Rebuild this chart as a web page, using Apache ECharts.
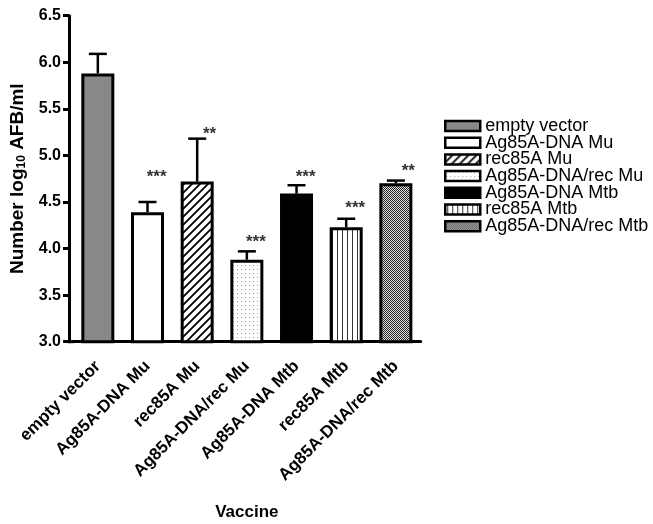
<!DOCTYPE html>
<html>
<head>
<meta charset="utf-8">
<script src="https://cdn.jsdelivr.net/npm/echarts@6/dist/echarts.min.js"></script>
<style>
  html, body { margin: 0; padding: 0; background: #fff; }
  #chart { width: 653px; height: 524px; }
</style>
</head>
<body>
<div id="chart"></div>
<script>
// Vaccine groups and mean bacterial load (log10 AFB/ml) with upper error bars
const categories = ['empty vector', 'Ag85A-DNA Mu', 'rec85A Mu', 'Ag85A-DNA/rec Mu', 'Ag85A-DNA Mtb', 'rec85A Mtb', 'Ag85A-DNA/rec Mtb'];
const means = [5.88, 4.39, 4.72, 3.88, 4.59, 4.23, 4.70];
const upperErr = [6.09, 4.50, 5.18, 3.97, 4.68, 4.32, 4.73];
// significance markers and the height at which each is printed
const stars = ['', '***', '**', '***', '***', '***', '**'];
const starLevel = [null, 4.80, 5.26, 4.10, 4.80, 4.46, 4.86];
const yTicks = { min: 3.0, max: 6.5, step: 0.5 };

const FONT = '"Liberation Sans", Arial, sans-serif';

function makePattern(w, h, draw) {
  const c = document.createElement('canvas');
  c.width = w; c.height = h;
  const ctx = c.getContext('2d');
  draw(ctx, w, h);
  return { image: c, repeat: 'repeat' };
}

const fills = [
  '#888888',
  '#ffffff',
  makePattern(8, 8, (ctx, w, h) => {
    ctx.fillStyle = '#fff'; ctx.fillRect(0, 0, w, h);
    ctx.strokeStyle = '#000'; ctx.lineWidth = 1.8;
    ctx.beginPath();
    ctx.moveTo(-1, h + 1); ctx.lineTo(w + 1, -1);
    ctx.moveTo(-1, 1); ctx.lineTo(1, -1);
    ctx.moveTo(w - 1, h + 1); ctx.lineTo(w + 1, h - 1);
    ctx.stroke();
  }),
  makePattern(4, 4, (ctx, w, h) => {
    ctx.fillStyle = '#fff'; ctx.fillRect(0, 0, w, h);
    ctx.fillStyle = '#9a9a9a'; ctx.fillRect(1, 1, 1, 1);
  }),
  '#000000',
  makePattern(5, 2, (ctx, w, h) => {
    ctx.fillStyle = '#fff'; ctx.fillRect(0, 0, w, h);
    ctx.fillStyle = '#333'; ctx.fillRect(2, 0, 1, h);
  }),
  makePattern(2, 2, (ctx, w, h) => {
    ctx.fillStyle = '#dcdcdc'; ctx.fillRect(0, 0, w, h);
    ctx.fillStyle = '#2a2a2a'; ctx.fillRect(0, 0, 1, 1); ctx.fillRect(1, 1, 1, 1);
  })
];

const chart = echarts.init(document.getElementById('chart'), null, { renderer: 'canvas' });

const barSeries = categories.map((name, i) => ({
  name: name,
  type: 'bar',
  barWidth: 33,
  barGap: '-100%',
  data: means.map((v, j) => (j === i ? v : '-')),
  itemStyle: { color: fills[i], borderColor: '#000', borderWidth: 3 },
  z: 2
}));

const errorSeries = {
  type: 'custom',
  name: 'err',
  data: means.map((v, i) => [i, v, upperErr[i]]),
  z: 3,
  renderItem: function (params, api) {
    const lo = api.coord([api.value(0), api.value(1)]);
    const hi = api.coord([api.value(0), api.value(2)]);
    const half = 9;
    return {
      type: 'group',
      children: [
        { type: 'line', shape: { x1: lo[0], y1: lo[1], x2: hi[0], y2: hi[1] }, style: { stroke: '#000', lineWidth: 2.5 } },
        { type: 'line', shape: { x1: hi[0] - half, y1: hi[1], x2: hi[0] + half, y2: hi[1] }, style: { stroke: '#000', lineWidth: 2.5 } }
      ]
    };
  }
};

const starSeries = {
  type: 'custom',
  name: 'sig',
  data: stars.map((s, i) => [i, starLevel[i] === null ? '-' : starLevel[i], s]),
  z: 4,
  renderItem: function (params, api) {
    const idx = params.dataIndex;
    if (!stars[idx]) return null;
    const p = api.coord([api.value(0), api.value(1)]);
    return {
      type: 'text',
      style: {
        x: p[0] + 19, y: p[1] + 3,
        text: stars[idx],
        fill: '#333',
        font: 'bold 17px ' + FONT,
        align: 'right', verticalAlign: 'middle'
      }
    };
  }
};

chart.setOption({
  animation: false,
  backgroundColor: '#fff',
  grid: { left: 73, top: 15.7, width: 347.7, height: 326, containLabel: false, outerBoundsMode: 'none' },
  legend: {
    data: categories,
    orient: 'vertical',
    left: 439, top: 112,
    padding: 5,
    icon: 'rect',
    itemWidth: 35, itemHeight: 10,
    itemGap: -1.3,
    itemStyle: { borderColor: '#000', borderWidth: 2.5 },
    textStyle: { fontFamily: FONT, fontSize: 18, color: '#000', lineHeight: 16.7 }
  },
  xAxis: {
    type: 'category',
    data: categories,
    name: 'Vaccine',
    nameLocation: 'middle',
    nameGap: 162,
    nameTextStyle: { fontFamily: FONT, fontWeight: 'bold', fontSize: 17, color: '#000' },
    axisLine: { lineStyle: { color: '#000', width: 3 } },
    axisTick: { alignWithLabel: true, length: 6, lineStyle: { color: '#000', width: 3 } },
    axisLabel: {
      rotate: 45, margin: 22, interval: 0,
      fontFamily: FONT, fontWeight: 'bold', fontSize: 17, color: '#000'
    },
    splitLine: { show: false }
  },
  yAxis: {
    type: 'value',
    min: yTicks.min, max: yTicks.max, interval: yTicks.step,
    offset: 4,
    name: 'Number log{sub|10} AFB/ml',
    nameLocation: 'middle',
    nameGap: 39,
    nameRotate: 90,
    nameTextStyle: {
      fontFamily: FONT, fontWeight: 'bold', fontSize: 19, color: '#000',
      rich: { sub: { fontFamily: FONT, fontWeight: 'bold', fontSize: 12, color: '#000', verticalAlign: 'bottom', padding: [8, 0, 0, 0] } }
    },
    axisLine: { show: true, lineStyle: { color: '#000', width: 3 } },
    axisTick: { show: true, length: 6, lineStyle: { color: '#000', width: 3 } },
    axisLabel: {
      margin: 8,
      formatter: v => v.toFixed(1),
      fontFamily: FONT, fontWeight: 'bold', fontSize: 16, color: '#000'
    },
    splitLine: { show: false }
  },
  series: barSeries.concat([errorSeries, starSeries])
});

// join the offset y axis to the start of the x axis line
const corner = chart.convertToPixel({ gridIndex: 0 }, [0, yTicks.min]);
const gridLeft = 73;
chart.setOption({
  graphic: [{
    type: 'line',
    shape: { x1: gridLeft - 5.5, y1: corner[1], x2: gridLeft + 1, y2: corner[1] },
    style: { stroke: '#000', lineWidth: 3 },
    z: 10
  }]
});
</script>
</body>
</html>
